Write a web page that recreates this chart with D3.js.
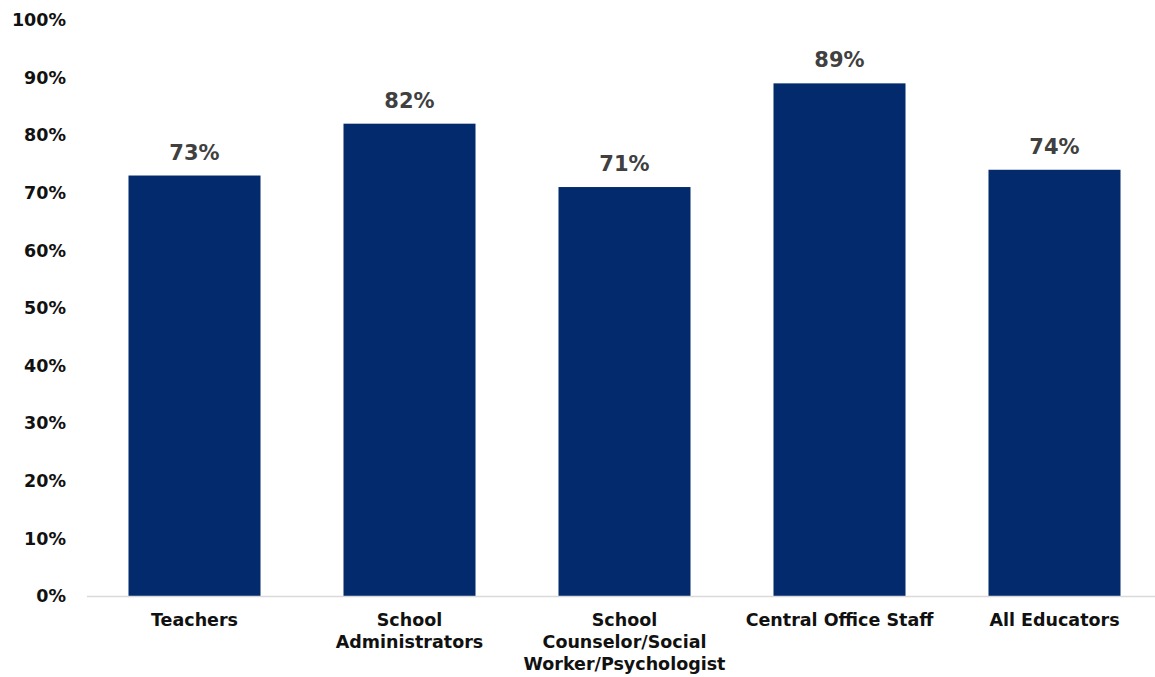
<!DOCTYPE html>
<html>
<head>
<meta charset="utf-8">
<script src="https://cdn.jsdelivr.net/npm/d3@7"></script>
<style>
  html, body { margin: 0; padding: 0; background: #ffffff; }
  svg { display: block; font-family: "DejaVu Sans", "Open Sans", sans-serif; }
</style>
</head>
<body>
<svg id="chart" width="1155" height="677"></svg>
<script>
// Share of respondents by role
const categories = [
  ["Teachers"],
  ["School", "Administrators"],
  ["School", "Counselor/Social", "Worker/Psychologist"],
  ["Central Office Staff"],
  ["All Educators"]
];
const values = [73, 82, 71, 89, 74];
const yTicks = [0, 10, 20, 30, 40, 50, 60, 70, 80, 90, 100];

const FONT = "\"DejaVu Sans\", \"Open Sans\", sans-serif";
const svg = d3.select("#chart");
const plot = { left: 87, right: 1162, top: 20, bottom: 596 };

const keys = categories.map(c => c.join(" "));
const x = d3.scaleBand()
  .domain(keys)
  .range([plot.left, plot.right])
  .paddingInner(0.386)
  .paddingOuter(0.193);

const y = d3.scaleLinear()
  .domain([0, 100])
  .range([plot.bottom, plot.top]);

// y-axis labels (no line, no ticks)
const yAxis = d3.axisLeft(y)
  .tickValues(yTicks)
  .tickFormat(d => d + "%")
  .tickSize(0)
  .tickPadding(0);
const gy = svg.append("g")
  .attr("transform", "translate(66,0)")
  .call(yAxis);
gy.select(".domain").remove();
gy.selectAll("text")
  .attr("font-size", 17.5)
  .attr("font-weight", "bold")
  .attr("fill", "#111111")
  .attr("font-family", FONT);

// bars
svg.append("g").selectAll("rect")
  .data(values)
  .join("rect")
  .attr("x", (d, i) => x(keys[i]))
  .attr("y", d => y(d))
  .attr("width", x.bandwidth())
  .attr("height", d => y(0) - y(d))
  .attr("fill", "#022a6c");

// baseline
svg.append("line")
  .attr("x1", plot.left)
  .attr("x2", 1155)
  .attr("y1", y(0) + 0.5)
  .attr("y2", y(0) + 0.5)
  .attr("stroke", "#d9d9d9")
  .attr("stroke-width", 1.5);

// value labels
svg.append("g").selectAll("text")
  .data(values)
  .join("text")
  .attr("x", (d, i) => x(keys[i]) + x.bandwidth() / 2)
  .attr("y", d => y(d) - 16)
  .attr("text-anchor", "middle")
  .attr("font-size", 21)
  .attr("font-weight", "bold")
  .attr("font-family", FONT)
  .attr("fill", "#404040")
  .text(d => d + "%");

// category labels
const xAxis = d3.axisBottom(x).tickSize(0).tickFormat("");
const gx = svg.append("g")
  .attr("transform", `translate(0,${plot.bottom})`)
  .call(xAxis);
gx.select(".domain").remove();
gx.selectAll(".tick").each(function(d, i) {
  const t = d3.select(this).append("text")
    .attr("text-anchor", "middle")
    .attr("font-size", 17.5)
    .attr("font-weight", "bold")
    .attr("font-family", FONT)
    .attr("fill", "#111111");
  categories[i].forEach((line, j) => {
    t.append("tspan")
      .attr("x", 0)
      .attr("y", 30 + j * 22)
      .text(line);
  });
});
</script>
</body>
</html>
